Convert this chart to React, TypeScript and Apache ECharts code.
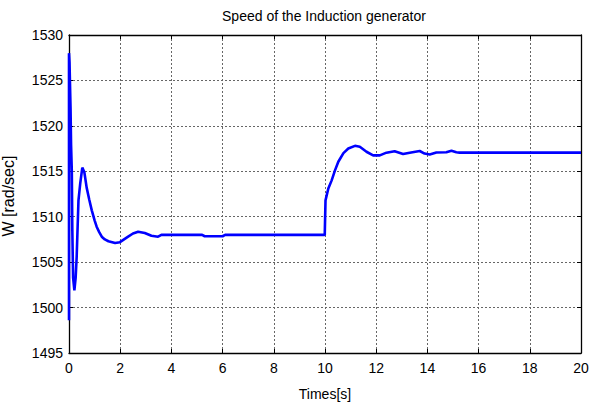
import React, { useEffect, useRef } from "react";
import * as echarts from "echarts";

const chartTitle = "Speed of the Induction generator";
const xAxisName = "Times[s]";
const yAxisName = "W [rad/sec]";

const xTicks = [0, 2, 4, 6, 8, 10, 12, 14, 16, 18, 20];
const yTicks = [1495, 1500, 1505, 1510, 1515, 1520, 1525, 1530];

const timeS = [
  0, 0, 0.02, 0.06, 0.08, 0.11, 0.13, 0.16, 0.21, 0.26, 0.3, 0.37, 0.44, 0.52,
  0.6, 0.69, 0.79, 0.89, 1.0, 1.08, 1.18, 1.28, 1.4, 1.54, 1.8, 1.99, 2.15, 2.31,
  2.5, 2.7, 2.96, 3.22, 3.48, 3.61, 5.2, 5.3, 6.0, 6.1, 9.99,
  10.02, 10.04, 10.13, 10.26, 10.39, 10.52, 10.72, 10.91, 11.17, 11.36, 11.62,
  11.88, 12.14, 12.4, 12.72, 13.05, 13.31, 13.7, 13.89, 14.09, 14.35, 14.74,
  14.94, 15.13, 15.26, 20,
];

const speed = [
  1498.6, 1528, 1527, 1522, 1518, 1515, 1508.5, 1503.3, 1501.9, 1503.3, 1505.6,
  1511.8, 1513.7, 1515.4,
  1514.9, 1513.2, 1511.9, 1510.7, 1509.6, 1508.9, 1508.3, 1507.8, 1507.5, 1507.3,
  1507.1, 1507.2, 1507.5, 1507.8,
  1508.15, 1508.35, 1508.2, 1507.9, 1507.8, 1508.0, 1508.0, 1507.85, 1507.85,
  1508.0, 1508.0,
  1511.8, 1511.8, 1513.1, 1514.0, 1515.1, 1516.05, 1517.0, 1517.5, 1517.8,
  1517.7, 1517.15,
  1516.75, 1516.75, 1517.05, 1517.2, 1516.9, 1517.05, 1517.23, 1516.95, 1516.85,
  1517.07, 1517.1,
  1517.27, 1517.1, 1517.05, 1517.05,
];

const FONT = "'Liberation Sans', Arial, sans-serif";

export default function App() {
  const ref = useRef<HTMLDivElement>(null);

  useEffect(() => {
    if (!ref.current) return;
    const chart = echarts.init(ref.current, null, { renderer: "svg" });
    const gridLine = { show: true, lineStyle: { color: "#666", width: 1, type: [2, 2] } };
    const axisLineStyle = { show: true, lineStyle: { color: "#000", width: 1.3 } };
    const tick = { show: true, inside: true, length: 4, lineStyle: { color: "#000" } };
    chart.setOption({
      animation: false,
      backgroundColor: "#fff",
      grid: { left: 69, right: 17, top: 35, bottom: 52, containLabel: false },
      graphic: [
        {
          type: "text",
          x: 324,
          y: 16,
          style: {
            text: chartTitle,
            font: `14px ${FONT}`,
            fill: "#000",
            textAlign: "center",
            textVerticalAlign: "middle",
          },
        },
        {
          type: "text",
          x: 325,
          y: 394,
          style: {
            text: xAxisName,
            font: `14px ${FONT}`,
            fill: "#000",
            textAlign: "center",
            textVerticalAlign: "middle",
          },
        },
        {
          type: "text",
          x: 8,
          y: 196,
          rotation: Math.PI / 2,
          style: {
            text: yAxisName,
            font: `16px ${FONT}`,
            fill: "#000",
            textAlign: "center",
            textVerticalAlign: "middle",
          },
        },
      ],
      xAxis: [
        {
          type: "value",
          min: xTicks[0],
          max: xTicks[xTicks.length - 1],
          interval: 2,
          axisLine: { ...axisLineStyle, onZero: false },
          axisTick: tick,
          splitLine: gridLine,
          axisLabel: {
            color: "#000",
            fontSize: 14,
            fontFamily: FONT,
            margin: 8,
            formatter: (v: number) => String(v),
          },
        },
        {
          type: "value",
          position: "top",
          min: xTicks[0],
          max: xTicks[xTicks.length - 1],
          interval: 2,
          axisLine: { ...axisLineStyle, onZero: false },
          axisTick: tick,
          splitLine: { show: false },
          axisLabel: { show: false },
        },
      ],
      yAxis: [
        {
          type: "value",
          min: yTicks[0],
          max: yTicks[yTicks.length - 1],
          interval: 5,
          axisLine: { ...axisLineStyle, onZero: false },
          axisTick: tick,
          splitLine: gridLine,
          axisLabel: {
            color: "#000",
            fontSize: 14,
            fontFamily: FONT,
            margin: 6,
            formatter: (v: number) => String(v),
          },
        },
        {
          type: "value",
          position: "right",
          min: yTicks[0],
          max: yTicks[yTicks.length - 1],
          interval: 5,
          axisLine: { ...axisLineStyle, onZero: false },
          axisTick: tick,
          splitLine: { show: false },
          axisLabel: { show: false },
        },
      ],
      series: [
        {
          type: "line",
          xAxisIndex: 0,
          yAxisIndex: 0,
          data: timeS.map((t, i) => [t, speed[i]]),
          showSymbol: false,
          symbol: "none",
          smooth: false,
          lineStyle: { color: "#0000ff", width: 2.6 },
          clip: true,
        },
      ],
    });
    return () => chart.dispose();
  }, []);

  return (
    <div
      ref={ref}
      style={{ position: "fixed", left: 0, top: 0, width: 598, height: 405, background: "#fff" }}
    />
  );
}
